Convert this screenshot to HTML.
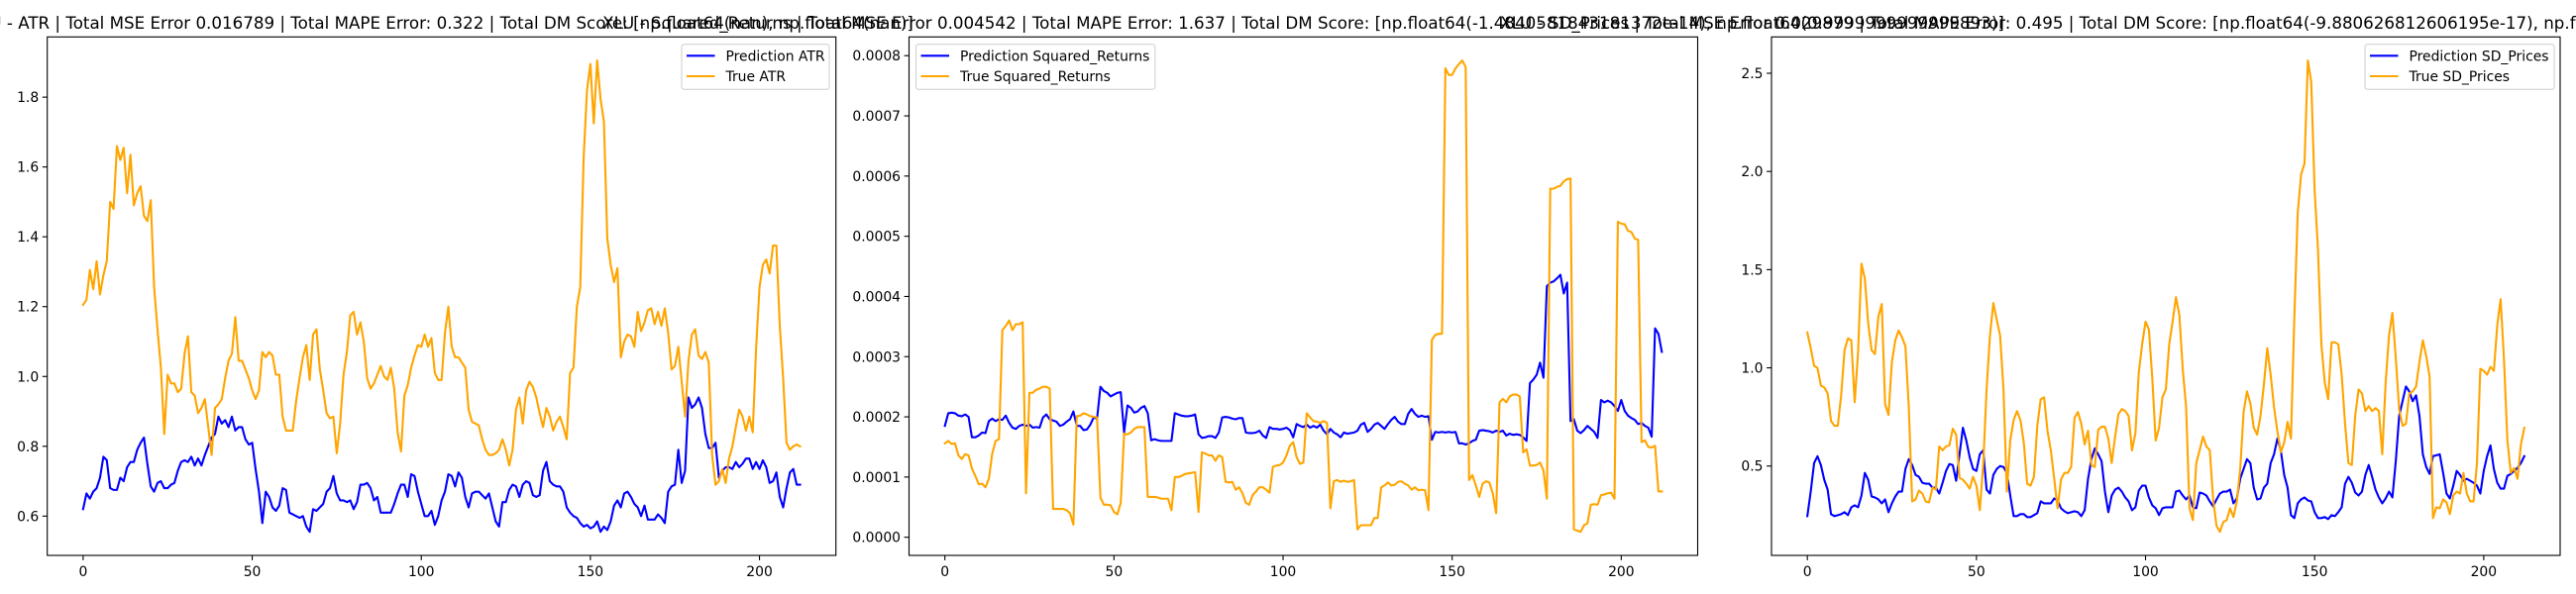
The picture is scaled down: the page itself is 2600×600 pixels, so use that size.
<!DOCTYPE html>
<html><head><meta charset="utf-8"><style>
html,body{margin:0;padding:0;background:#fff;}
svg{display:block;font-family:"DejaVu Sans","Liberation Sans",sans-serif;}
</style></head><body>
<svg id="fig" width="2600" height="600" viewBox="0 0 2600 600" xmlns="http://www.w3.org/2000/svg"></svg>
<script>
// ---- data ----
const xIndexCount = 213;
const xTicks = [0, 50, 100, 150, 200];

const atrPred = [0.62,0.665,0.65,0.67,0.68,0.71,0.77,0.76,0.68,0.675,0.675,0.71,0.70,0.74,0.755,0.755,0.79,0.81,0.825,0.75,0.685,0.67,0.695,0.70,0.68,0.68,0.69,0.695,0.73,0.755,0.76,0.755,0.77,0.745,0.765,0.745,0.775,0.80,0.825,0.835,0.885,0.865,0.875,0.855,0.885,0.845,0.855,0.855,0.82,0.805,0.81,0.735,0.67,0.58,0.67,0.655,0.625,0.615,0.63,0.68,0.675,0.61,0.605,0.60,0.595,0.60,0.57,0.555,0.62,0.615,0.625,0.635,0.67,0.68,0.715,0.665,0.645,0.645,0.64,0.645,0.62,0.64,0.69,0.69,0.695,0.68,0.645,0.655,0.61,0.61,0.61,0.61,0.635,0.665,0.69,0.69,0.655,0.72,0.715,0.67,0.635,0.60,0.60,0.615,0.575,0.60,0.645,0.67,0.72,0.715,0.685,0.725,0.71,0.655,0.625,0.665,0.67,0.67,0.66,0.65,0.665,0.625,0.585,0.57,0.64,0.64,0.675,0.69,0.685,0.655,0.69,0.70,0.695,0.66,0.655,0.66,0.73,0.755,0.70,0.69,0.685,0.685,0.67,0.625,0.61,0.60,0.595,0.58,0.57,0.575,0.565,0.57,0.585,0.555,0.57,0.56,0.585,0.63,0.645,0.625,0.665,0.67,0.655,0.635,0.625,0.60,0.63,0.59,0.59,0.59,0.605,0.595,0.58,0.67,0.685,0.69,0.79,0.695,0.73,0.94,0.91,0.92,0.94,0.91,0.835,0.795,0.795,0.81,0.71,0.73,0.74,0.74,0.735,0.755,0.74,0.75,0.765,0.765,0.735,0.755,0.735,0.76,0.74,0.695,0.70,0.725,0.655,0.625,0.68,0.725,0.735,0.69,0.69];
const atrTrue = [1.205,1.22,1.305,1.25,1.33,1.235,1.29,1.33,1.50,1.48,1.66,1.62,1.655,1.525,1.635,1.49,1.525,1.545,1.46,1.445,1.505,1.255,1.135,1.025,0.835,1.005,0.98,0.98,0.955,0.965,1.065,1.115,0.955,0.945,0.895,0.91,0.935,0.855,0.775,0.91,0.92,0.935,0.995,1.045,1.065,1.17,1.045,1.045,1.02,0.995,0.96,0.935,0.96,1.07,1.055,1.07,1.06,1.005,1.005,0.885,0.845,0.845,0.845,0.93,0.995,1.055,1.09,0.99,1.12,1.135,1.02,0.96,0.895,0.88,0.885,0.78,0.865,1.005,1.07,1.175,1.185,1.12,1.155,1.10,0.995,0.965,0.98,1.005,1.03,1.0,0.99,1.025,0.965,0.84,0.785,0.945,0.975,1.025,1.06,1.09,1.085,1.12,1.085,1.11,1.01,0.99,0.99,1.125,1.20,1.085,1.055,1.055,1.04,1.025,0.905,0.87,0.865,0.86,0.82,0.79,0.775,0.775,0.78,0.79,0.82,0.79,0.745,0.79,0.905,0.94,0.865,0.96,0.985,0.97,0.94,0.895,0.855,0.91,0.885,0.845,0.87,0.885,0.855,0.82,1.01,1.025,1.20,1.255,1.625,1.82,1.895,1.725,1.905,1.795,1.73,1.395,1.32,1.27,1.31,1.055,1.10,1.12,1.115,1.085,1.185,1.13,1.155,1.19,1.195,1.15,1.185,1.145,1.195,1.125,1.02,1.03,1.085,0.985,0.885,1.045,1.12,1.135,1.06,1.05,1.07,1.04,0.775,0.69,0.70,0.735,0.695,0.765,0.80,0.855,0.905,0.885,0.845,0.885,0.84,1.08,1.255,1.32,1.335,1.295,1.375,1.375,1.145,0.995,0.81,0.79,0.80,0.805,0.80];

// Squared returns in units of 1e-4
const srPred = [1.85,2.06,2.07,2.06,2.02,2.01,2.04,2.0,1.66,1.66,1.69,1.74,1.73,1.93,1.97,1.93,1.96,1.95,2.02,1.90,1.82,1.80,1.85,1.87,1.85,1.87,1.82,1.83,1.82,1.99,2.04,1.96,1.94,1.92,1.85,1.87,1.92,1.96,2.09,1.85,1.85,1.78,1.79,1.87,1.99,1.97,2.50,2.43,2.40,2.34,2.37,2.40,2.41,1.74,2.19,2.15,2.07,2.09,2.15,2.18,2.06,1.61,1.63,1.61,1.60,1.60,1.60,1.60,2.06,2.04,2.02,2.01,2.01,2.02,2.04,1.71,1.65,1.66,1.68,1.68,1.65,1.74,1.99,2.0,1.99,1.97,1.96,1.98,1.98,1.74,1.73,1.73,1.74,1.77,1.69,1.65,1.83,1.80,1.80,1.79,1.80,1.82,1.78,1.66,1.88,1.85,1.83,1.87,1.82,1.85,1.82,1.87,1.77,1.71,1.80,1.74,1.71,1.66,1.74,1.72,1.73,1.74,1.77,1.87,1.90,1.75,1.80,1.87,1.90,1.85,1.80,1.88,1.95,2.0,1.92,1.88,1.88,2.05,2.13,2.05,2.0,2.02,2.0,2.01,1.62,1.75,1.74,1.75,1.74,1.75,1.74,1.75,1.56,1.56,1.54,1.56,1.60,1.62,1.77,1.78,1.77,1.76,1.74,1.77,1.75,1.77,1.69,1.72,1.70,1.71,1.70,1.66,1.60,2.56,2.62,2.70,2.90,2.65,4.17,4.23,4.25,4.30,4.36,4.05,4.23,1.93,1.96,1.77,1.73,1.78,1.85,1.80,1.75,1.65,2.28,2.24,2.27,2.24,2.18,2.10,2.28,2.10,2.02,1.98,1.95,1.88,1.90,1.85,1.82,1.67,3.47,3.38,3.08];
const srTrue = [1.56,1.6,1.55,1.56,1.36,1.30,1.38,1.36,1.14,1.02,0.88,0.89,0.83,0.97,1.39,1.60,1.63,3.44,3.51,3.60,3.44,3.54,3.54,3.57,0.73,2.40,2.40,2.45,2.47,2.50,2.50,2.47,0.47,0.47,0.47,0.47,0.45,0.40,0.21,2.01,2.02,2.06,2.04,2.01,2.0,1.99,0.66,0.54,0.54,0.53,0.42,0.38,0.57,1.72,1.71,1.74,1.80,1.83,1.83,1.83,0.67,0.67,0.67,0.66,0.64,0.64,0.64,0.45,1.0,1.0,1.02,1.05,1.06,1.07,1.08,0.42,1.41,1.39,1.36,1.36,1.27,1.36,1.33,0.92,0.91,0.92,0.79,0.83,0.73,0.57,0.54,0.70,0.76,0.83,0.83,0.79,0.74,1.17,1.19,1.20,1.24,1.36,1.52,1.58,1.33,1.22,1.24,2.06,1.99,1.93,1.92,1.90,1.93,1.90,0.48,0.93,0.95,0.92,0.94,0.92,0.93,0.95,0.13,0.20,0.20,0.20,0.20,0.32,0.32,0.83,0.86,0.91,0.86,0.87,0.92,0.93,0.89,0.86,0.79,0.83,0.78,0.79,0.78,0.45,3.28,3.36,3.38,3.38,7.79,7.68,7.68,7.79,7.86,7.92,7.81,0.95,1.03,0.86,0.67,0.89,0.93,0.91,0.73,0.40,2.24,2.30,2.24,2.34,2.37,2.37,2.34,1.41,1.46,1.19,1.19,1.20,1.24,1.11,0.64,5.79,5.79,5.82,5.84,5.91,5.95,5.96,0.13,0.11,0.09,0.20,0.23,0.54,0.55,0.54,0.70,0.71,0.73,0.74,0.64,5.24,5.21,5.20,5.09,5.07,4.96,4.94,1.58,1.61,1.50,1.49,1.52,0.76,0.76];
const srScale = 0.0001;
const srTickLabels = ["0.0000","0.0001","0.0002","0.0003","0.0004","0.0005","0.0006","0.0007","0.0008"];

const sdPred = [0.245,0.37,0.515,0.55,0.505,0.43,0.38,0.255,0.245,0.25,0.255,0.265,0.25,0.29,0.30,0.29,0.35,0.465,0.43,0.345,0.34,0.33,0.31,0.33,0.265,0.31,0.345,0.37,0.37,0.485,0.535,0.505,0.455,0.445,0.415,0.41,0.41,0.39,0.39,0.36,0.415,0.475,0.51,0.505,0.425,0.56,0.695,0.63,0.545,0.485,0.475,0.56,0.58,0.38,0.36,0.455,0.485,0.50,0.495,0.465,0.35,0.245,0.245,0.255,0.255,0.24,0.24,0.25,0.26,0.32,0.31,0.31,0.31,0.335,0.325,0.285,0.27,0.26,0.265,0.27,0.265,0.245,0.275,0.435,0.535,0.59,0.56,0.525,0.37,0.265,0.35,0.38,0.39,0.37,0.34,0.32,0.275,0.29,0.375,0.40,0.40,0.34,0.30,0.285,0.25,0.285,0.29,0.29,0.29,0.37,0.375,0.35,0.33,0.35,0.29,0.285,0.365,0.36,0.35,0.32,0.295,0.33,0.36,0.37,0.37,0.38,0.31,0.335,0.435,0.485,0.535,0.515,0.39,0.33,0.335,0.39,0.41,0.515,0.56,0.64,0.58,0.455,0.39,0.25,0.235,0.31,0.33,0.34,0.325,0.32,0.265,0.235,0.235,0.24,0.23,0.25,0.245,0.265,0.29,0.41,0.445,0.415,0.365,0.35,0.37,0.455,0.505,0.445,0.38,0.34,0.31,0.335,0.37,0.34,0.525,0.755,0.83,0.905,0.88,0.83,0.86,0.755,0.56,0.495,0.46,0.55,0.555,0.56,0.465,0.36,0.335,0.40,0.475,0.455,0.425,0.435,0.425,0.415,0.40,0.36,0.475,0.55,0.605,0.485,0.415,0.385,0.385,0.45,0.46,0.475,0.49,0.515,0.55];
const sdTrue = [1.18,1.10,1.01,1.0,0.91,0.90,0.87,0.73,0.705,0.705,0.86,1.09,1.15,1.14,0.825,1.08,1.53,1.455,1.225,1.09,1.07,1.26,1.325,0.815,0.76,1.03,1.14,1.19,1.155,1.11,0.80,0.32,0.33,0.375,0.36,0.32,0.315,0.39,0.38,0.60,0.58,0.60,0.605,0.69,0.66,0.44,0.43,0.41,0.385,0.445,0.40,0.275,0.505,0.89,1.165,1.33,1.245,1.165,0.89,0.37,0.63,0.735,0.78,0.735,0.62,0.41,0.40,0.445,0.705,0.84,0.85,0.68,0.58,0.435,0.285,0.43,0.465,0.465,0.495,0.745,0.775,0.715,0.61,0.68,0.505,0.495,0.685,0.70,0.70,0.64,0.515,0.65,0.765,0.79,0.78,0.755,0.58,0.665,0.975,1.12,1.235,1.195,0.945,0.63,0.695,0.85,0.89,1.12,1.235,1.36,1.27,0.995,0.80,0.285,0.225,0.515,0.58,0.65,0.60,0.58,0.33,0.195,0.165,0.215,0.225,0.285,0.24,0.32,0.485,0.775,0.88,0.82,0.695,0.66,0.755,0.915,1.10,0.965,0.80,0.675,0.57,0.62,0.725,0.64,1.255,1.79,1.985,2.04,2.565,2.455,1.905,1.60,1.12,0.925,0.84,1.13,1.13,1.12,0.965,0.715,0.515,0.505,0.755,0.89,0.87,0.78,0.805,0.78,0.795,0.78,0.56,0.925,1.165,1.28,1.05,0.79,0.705,0.715,0.87,0.88,0.905,1.03,1.14,1.06,0.955,0.235,0.29,0.285,0.33,0.315,0.255,0.35,0.37,0.36,0.465,0.36,0.32,0.32,0.515,0.995,0.985,0.965,1.005,0.985,1.215,1.35,1.04,0.63,0.465,0.49,0.435,0.61,0.695];

// ---- drawing ----
const NS = "http://www.w3.org/2000/svg";
const fig = document.getElementById('fig');
function mk(tag, attrs, parent){
  const e = document.createElementNS(NS, tag);
  for (const k in attrs) e.setAttribute(k, attrs[k]);
  (parent || fig).appendChild(e);
  return e;
}
const AX_TOP = 37.3, AX_BOT = 561, AX_W = 796;
const BLUE = '#0000ff', ORANGE = '#ffa500';

function drawPanel(p){
  const g = mk('g', {});
  
  
  const n = Math.max(p.pred.length, p.truth.length);
  const xmin = -0.05*(n-1), xmax = (n-1)*1.05;
  const all = p.pred.concat(p.truth).map(v => v*p.scale);
  const dmin = Math.min.apply(null, all), dmax = Math.max.apply(null, all);
  const ymin = dmin - 0.05*(dmax-dmin), ymax = dmax + 0.05*(dmax-dmin);
  const xs = v => p.left + (v - xmin)/(xmax - xmin)*AX_W;
  const ys = v => AX_BOT - (v - ymin)/(ymax - ymin)*(AX_BOT - AX_TOP);

  function line(arr, color, nm){
    const d = arr.map((v,i)=> (i?'L':'M') + xs(i).toFixed(2) + ' ' + ys(v*p.scale).toFixed(2)).join(' ');
    const path = mk('path', {d:d, fill:'none', stroke:color, 'stroke-width':2.1, 'stroke-linejoin':'round', 'stroke-linecap':'square'}, g);
    
    
  }
  line(p.pred, BLUE, p.name + '-prediction-line');
  line(p.truth, ORANGE, p.name + '-true-line');

  const fr = mk('rect', {x:p.left, y:AX_TOP, width:AX_W, height:AX_BOT-AX_TOP, fill:'none', stroke:'#000', 'stroke-width':1.1}, g);
  
  

  xTicks.forEach(t=>{
    const x = xs(t);
    mk('line', {x1:x, x2:x, y1:AX_BOT, y2:AX_BOT+4.9, stroke:'#000', 'stroke-width':1.1}, g);
    const tx = mk('text', {x:x, y:AX_BOT+21, 'font-size':13.9, 'text-anchor':'middle', fill:'#000'}, g);
    tx.textContent = t;
    
    
  });
  p.yTicks.forEach((t,i)=>{
    const y = ys(t);
    if (y < AX_TOP-0.5 || y > AX_BOT+0.5) return;
    mk('line', {x1:p.left-4.9, x2:p.left, y1:y, y2:y, stroke:'#000', 'stroke-width':1.1}, g);
    const tx = mk('text', {x:p.left-8.5, y:y+5, 'font-size':13.9, 'text-anchor':'end', fill:'#000'}, g);
    tx.textContent = p.yLabels[i];
    
    
  });

  const tt = mk('text', {x:p.left+AX_W/2, y:29, 'font-size':16.7, 'text-anchor':'middle', fill:'#000'});
  tt.textContent = p.title;
  
  

  const lg = mk('g', {}, g);
  
  
  mk('rect', {x:p.legX, y:44.8, width:p.legW, height:45.5, rx:2.5, fill:'#fff', 'fill-opacity':0.8, stroke:'#cccccc', 'stroke-width':1}, lg);
  [[BLUE, p.labels[0], 56.3],[ORANGE, p.labels[1], 77]].forEach(([c, lab, y])=>{
    const e = mk('g', {}, lg);
    
    
    mk('line', {x1:p.legX+5, x2:p.legX+33.5, y1:y, y2:y, stroke:c, 'stroke-width':2.1}, e);
    const t = mk('text', {x:p.legX+44.5, y:y+5, 'font-size':13.9, fill:'#000'}, e);
    t.textContent = lab;
  });
}

drawPanel({name:'atr-panel', left:47.7, pred:atrPred, truth:atrTrue, scale:1,
  yTicks:[0.6,0.8,1.0,1.2,1.4,1.6,1.8], yLabels:["0.6","0.8","1.0","1.2","1.4","1.6","1.8"],
  title:"XLU - ATR | Total MSE Error 0.016789 | Total MAPE Error: 0.322 | Total DM Score: [np.float64(nan), np.float64(nan)]",
  labels:["Prediction ATR","True ATR"], legX:688, legW:149});
drawPanel({name:'squared-returns-panel', left:917.5, pred:srPred, truth:srTrue, scale:srScale,
  yTicks:[0,0.0001,0.0002,0.0003,0.0004,0.0005,0.0006,0.0007,0.0008], yLabels:srTickLabels,
  title:"XLU - Squared_Returns | Total MSE Error 0.004542 | Total MAPE Error: 1.637 | Total DM Score: [np.float64(-1.4840581843181372e-14), np.float64(0.9999999999999893)]",
  labels:["Prediction Squared_Returns","True Squared_Returns"], legX:924.5, legW:241.3});
drawPanel({name:'sd-prices-panel', left:1788, pred:sdPred, truth:sdTrue, scale:1,
  yTicks:[0.5,1.0,1.5,2.0,2.5], yLabels:["0.5","1.0","1.5","2.0","2.5"],
  title:"XLU - SD_Prices | Total MSE Error 0.029879 | Total MAPE Error: 0.495 | Total DM Score: [np.float64(-9.880626812606195e-17), np.float64(0.9999999999999999)]",
  labels:["Prediction SD_Prices","True SD_Prices"], legX:2387, legW:191});
</script>
</body></html>
